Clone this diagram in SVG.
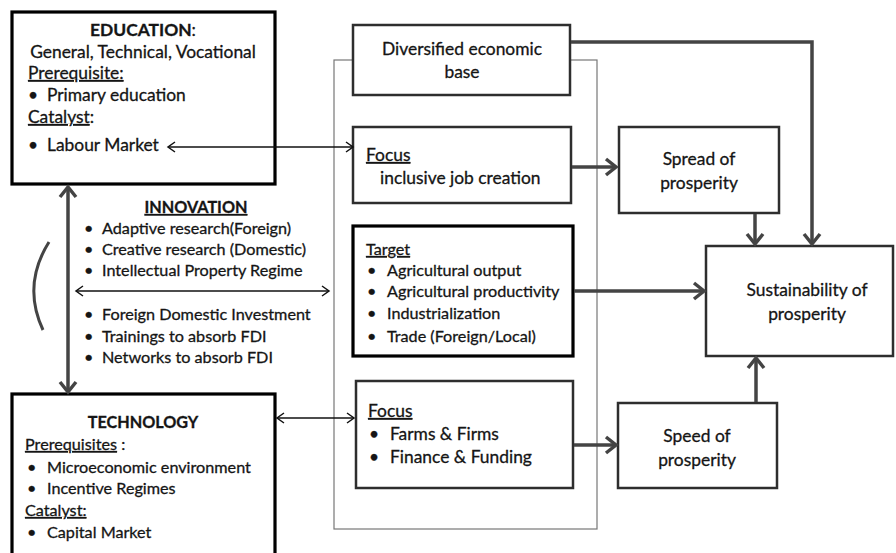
<svg xmlns="http://www.w3.org/2000/svg" width="896" height="553" viewBox="0 0 896 553">
<style>
text{font-family:Lato,"Open Sans","Liberation Sans",sans-serif;font-size:17.4px;fill:#151515;stroke:#151515;stroke-width:0.3}
.s{font-size:16.2px}
.b{font-weight:bold}
.u{text-decoration:underline}
.m{text-anchor:middle}
.box{fill:#fff;stroke:#2e2e2e;stroke-width:2.5}
.bbox{fill:#fff;stroke:#000;stroke-width:3.2}
.thick{fill:none;stroke:#444;stroke-width:3.5}
.thin{fill:none;stroke:#111;stroke-width:1.5}
</style>
<defs>
<marker id="ah" viewBox="-13 -11 16 22" markerWidth="16" markerHeight="22" refX="0" refY="0" orient="auto-start-reverse" markerUnits="userSpaceOnUse">
<path d="M-10,-8 L0,0 L-10,8" fill="none" stroke="#444" stroke-width="3.5"/>
</marker>
<marker id="at" viewBox="-10 -7 12 14" markerWidth="12" markerHeight="14" refX="0" refY="0" orient="auto-start-reverse" markerUnits="userSpaceOnUse">
<path d="M-7,-5 L0,0 L-7,5" fill="none" stroke="#111" stroke-width="1.5"/>
</marker>
</defs>
<rect width="896" height="553" fill="#fff"/>

<g id="frame"><rect x="334" y="60" width="263" height="469" fill="none" stroke="#777" stroke-width="1.2"/></g>

<g id="education">
<rect class="bbox" x="12" y="12" width="263" height="172"/>
<text x="143" y="36" class="m"><tspan class="b">EDUCATION</tspan>:</text>
<text x="143" y="58" class="m">General, Technical, Vocational</text>
<text x="28" y="79" class="u">Prerequisite:</text>
<text x="28" y="101">•</text><text x="47" y="101">Primary education</text>
<text x="28" y="123"><tspan class="u">Catalyst</tspan>:</text>
<text x="28" y="151">•</text><text x="47" y="151">Labour Market</text>
</g>

<g id="innovation">
<text x="196" y="213" class="m b u s">INNOVATION</text>
<text x="84" y="234" class="s">•</text><text x="102" y="234" class="s">Adaptive research(Foreign)</text>
<text x="84" y="255" class="s">•</text><text x="102" y="255" class="s">Creative research (Domestic)</text>
<text x="84" y="276" class="s">•</text><text x="102" y="276" class="s">Intellectual Property Regime</text>
<text x="84" y="320" class="s">•</text><text x="102" y="320" class="s">Foreign Domestic Investment</text>
<text x="84" y="342" class="s">•</text><text x="102" y="342" class="s">Trainings to absorb FDI</text>
<text x="84" y="363" class="s">•</text><text x="102" y="363" class="s">Networks to absorb FDI</text>
<path d="M49,242 Q22,285 43,330" fill="none" stroke="#444" stroke-width="3"/>
</g>

<g id="technology">
<rect class="bbox" x="12" y="394" width="263" height="175"/>
<text x="143" y="428" class="m b s">TECHNOLOGY</text>
<text x="25" y="450" class="s"><tspan class="u">Prerequisites</tspan> :</text>
<text x="27" y="473" class="s">•</text><text x="47" y="473" class="s">Microeconomic environment</text>
<text x="27" y="494" class="s">•</text><text x="47" y="494" class="s">Incentive Regimes</text>
<text x="25" y="516" class="u s">Catalyst:</text>
<text x="27" y="538" class="s">•</text><text x="47" y="538" class="s">Capital Market</text>
</g>

<g id="diversified">
<rect class="box" x="353" y="25" width="217" height="70"/>
<text x="462" y="55" class="m">Diversified economic</text>
<text x="462" y="78" class="m">base</text>
</g>

<g id="focus1">
<rect class="box" x="353" y="127" width="218" height="76"/>
<text x="366" y="161" class="u">Focus</text>
<text x="380" y="184">inclusive job creation</text>
</g>

<g id="target">
<rect class="bbox" x="353" y="226" width="220" height="130"/>
<text x="366" y="255" class="u s">Target</text>
<text x="367" y="276" class="s">•</text><text x="387" y="276" class="s">Agricultural output</text>
<text x="367" y="297" class="s">•</text><text x="387" y="297" class="s">Agricultural productivity</text>
<text x="367" y="319" class="s">•</text><text x="387" y="319" class="s">Industrialization</text>
<text x="367" y="342" class="s">•</text><text x="387" y="342" class="s">Trade (Foreign/Local)</text>
</g>

<g id="focus2">
<rect class="box" x="356" y="381" width="217" height="107"/>
<text x="368" y="417" class="u">Focus</text>
<text x="369" y="440">•</text><text x="390" y="440">Farms &amp; Firms</text>
<text x="369" y="463">•</text><text x="390" y="463">Finance &amp; Funding</text>
</g>

<g id="spread">
<rect class="box" x="619" y="127" width="160" height="86"/>
<text x="699" y="165" class="m">Spread of</text>
<text x="699" y="189" class="m">prosperity</text>
</g>

<g id="speed">
<rect class="box" x="618" y="403" width="159" height="85"/>
<text x="697" y="442" class="m">Speed of</text>
<text x="697" y="466" class="m">prosperity</text>
</g>

<g id="sustainability">
<rect class="box" x="706" y="246" width="187" height="110"/>
<text x="807" y="296" class="m">Sustainability of</text>
<text x="807" y="320" class="m">prosperity</text>
</g>

<g id="connectors">
<line class="thin" x1="168" y1="147" x2="353" y2="147" marker-start="url(#at)" marker-end="url(#at)"/>
<line class="thin" x1="76" y1="291" x2="329" y2="291" marker-start="url(#at)" marker-end="url(#at)"/>
<line class="thin" x1="277" y1="418" x2="354" y2="418" marker-start="url(#at)" marker-end="url(#at)"/>
<line class="thick" x1="68" y1="187" x2="68" y2="392" marker-start="url(#ah)" marker-end="url(#ah)"/>
<line class="thick" x1="572" y1="167" x2="616" y2="167" marker-end="url(#ah)"/>
<line class="thick" x1="574" y1="291" x2="704" y2="291" marker-end="url(#ah)"/>
<line class="thick" x1="574" y1="445" x2="616" y2="445" marker-end="url(#ah)"/>
<line class="thick" x1="755" y1="214" x2="755" y2="244" marker-end="url(#ah)"/>
<line class="thick" x1="756" y1="402" x2="756" y2="358" marker-end="url(#ah)"/>
<path class="thick" d="M571,42 H812 V244" marker-end="url(#ah)"/>
</g>
</svg>
